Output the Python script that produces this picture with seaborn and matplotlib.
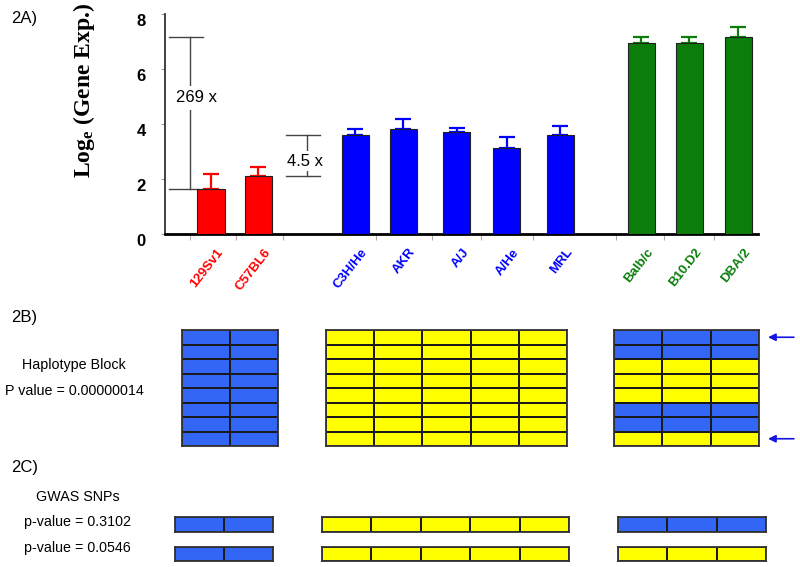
import numpy as np
import pandas as pd
import matplotlib
matplotlib.use("Agg")
import matplotlib.pyplot as plt
import seaborn as sns
from matplotlib.colors import ListedColormap
from matplotlib.transforms import ScaledTranslation

# ---------------- data ----------------
strains = ['129Sv1', 'C57BL6', 'C3H/He', 'AKR', 'A/J', 'A/He', 'MRL',
           'Balb/c', 'B10.D2', 'DBA/2']
groups = ['low', 'low', 'mid', 'mid', 'mid', 'mid', 'mid', 'high', 'high', 'high']
log_expr = [1.64, 2.10, 3.61, 3.81, 3.70, 3.13, 3.61, 6.95, 6.95, 7.15]
err_up = [0.55, 0.35, 0.22, 0.39, 0.17, 0.41, 0.32, 0.22, 0.22, 0.39]
yticks = [0, 2, 4, 6, 8]
fold_labels = ['269 x', '4.5 x']

# haplotype block: 8 SNP rows x 10 strains (1 = blue allele, 0 = yellow allele)
hap_block = [
    [1, 1, 0, 0, 0, 0, 0, 1, 1, 1],
    [1, 1, 0, 0, 0, 0, 0, 1, 1, 1],
    [1, 1, 0, 0, 0, 0, 0, 0, 0, 0],
    [1, 1, 0, 0, 0, 0, 0, 0, 0, 0],
    [1, 1, 0, 0, 0, 0, 0, 0, 0, 0],
    [1, 1, 0, 0, 0, 0, 0, 1, 1, 1],
    [1, 1, 0, 0, 0, 0, 0, 1, 1, 1],
    [1, 1, 0, 0, 0, 0, 0, 0, 0, 0],
]
snp_rows = [
    [1, 1, 0, 0, 0, 0, 0, 1, 1, 1],
    [1, 1, 0, 0, 0, 0, 0, 0, 0, 0],
]
snp_labels = ['p-value = 0.3102', 'p-value = 0.0546']
hap_title = 'Haplotype Block'
hap_p = 'P value = 0.00000014'

# ---------------- layout / style ----------------
W, H = 800, 567
bar_x = [0, 0.97, 2.97, 3.96, 5.07, 6.10, 7.20, 8.87, 9.86, 10.87]
minor_x = [-0.43, 0.52, 1.48, 3.40, 4.56, 5.57, 6.64, 8.35, 9.34, 10.37]
group_color = {'low': '#FF0000', 'mid': '#0000FF', 'high': '#0A7D0A'}
blue_cell = '#3366F5'
yellow_cell = '#FFFF00'

plt.rcParams['font.family'] = ['Liberation Sans', 'DejaVu Sans']
plt.rcParams['mathtext.fontset'] = 'custom'
plt.rcParams['mathtext.rm'] = 'Liberation Serif:bold'
plt.rcParams['mathtext.bf'] = 'Liberation Serif:bold'
plt.rcParams['mathtext.it'] = 'Liberation Serif:bold'


def box(l, t, r, b):
    return [l / W, 1 - b / H, (r - l) / W, (b - t) / H]


fig = plt.figure(figsize=(W / 100, H / 100), dpi=100)

# ---------------- 2A bar chart ----------------
ax = fig.add_axes(box(165, 14, 758, 234))
df = pd.DataFrame({'strain': strains, 'group': groups, 'val': log_expr,
                   'pos': bar_x})
width = 0.557 / np.min(np.diff(bar_x))
sns.barplot(data=df, x='pos', y='val', hue='group', palette=group_color,
            native_scale=True, dodge=False, width=width, errorbar=None,
            saturation=1, legend=False, edgecolor='#202020', linewidth=0.8,
            orient='x', ax=ax, zorder=3)
for g, c in group_color.items():
    sub = df[df['group'] == g]
    e = np.array([err_up[i] for i in sub.index])
    ax.errorbar(sub['pos'], sub['val'], yerr=[np.zeros_like(e), e], fmt='none',
                ecolor=c, elinewidth=1.6, capsize=6, capthick=1.6, zorder=2)

ax.set_xlim(-0.9485, 11.278)
ax.set_ylim(0, 8)
ax.set_yticks(yticks)
ax.set_yticklabels([str(t) for t in yticks], fontsize=12, fontweight='bold')
ax.tick_params(axis='y', length=3, width=0.8, color='#999999', pad=11)
ax.set_xticks(bar_x)
ax.set_xticklabels(strains, rotation=52, ha='right', va='center',
                   rotation_mode='anchor', fontsize=9.5, fontweight='bold')
ax.tick_params(axis='x', which='major', length=0, pad=11.5)
ax.set_xticks(minor_x, minor=True)
ax.tick_params(axis='x', which='minor', length=4, width=0.8, color='#aaaaaa')
for lab, g in zip(ax.get_xticklabels(), groups):
    lab.set_color(group_color[g])
    lab.set_transform(lab.get_transform() +
                      ScaledTranslation(0.10, 0, fig.dpi_scale_trans))
for lab in ax.get_yticklabels():
    lab.set_transform(lab.get_transform() +
                      ScaledTranslation(0, -0.06, fig.dpi_scale_trans))
ax.set_xlabel('')
ax.set_ylabel('')
for s in ['top', 'right']:
    ax.spines[s].set_visible(False)
ax.spines['left'].set_color('#333333')
ax.spines['left'].set_linewidth(1.3)
ax.spines['bottom'].set_color('black')
ax.spines['bottom'].set_linewidth(2.0)

# fold-change brackets
lo = min(log_expr)
hi = max(log_expr)
bc = '#444444'
xb = -0.433
ax.plot([xb, xb], [lo, hi], color=bc, lw=1.0, zorder=1)
ax.plot([-0.866, -0.165], [hi, hi], color=bc, lw=1.0, zorder=1)
ax.plot([-0.866, -0.268], [lo, lo], color=bc, lw=1.0, zorder=1)
ax.text(-0.29, lo + 0.6 * (hi - lo), fold_labels[0], ha='center', va='center',
        fontsize=12, bbox=dict(fc='white', ec='none', pad=3), zorder=4)

lo2 = log_expr[1]
hi2 = lo2 + np.log(4.5)
xb2 = 1.98
ax.plot([xb2, xb2], [lo2, hi2], color=bc, lw=1.0, zorder=1)
ax.plot([1.55, 2.25], [hi2, hi2], color=bc, lw=1.0, zorder=1)
ax.plot([1.55, 2.25], [lo2, lo2], color=bc, lw=1.0, zorder=1)
ax.text(1.94, (lo2 + hi2) / 2 - 0.2, fold_labels[1], ha='center', va='center',
        fontsize=12, bbox=dict(fc='white', ec='none', pad=2), zorder=4)

fig.text(84 / W, 1 - 90 / H, r'Log$_\mathrm{e}$ (Gene Exp.)', rotation=90,
         ha='center', va='center', fontsize=17, fontweight='bold',
         family='Liberation Serif')


def ftext(x, y, s, **kw):
    fig.text(x / W, 1 - y / H, s, **kw)


ftext(11, 23, '2A)', fontsize=12, va='baseline')
ftext(11, 322, '2B)', fontsize=12, va='baseline')
ftext(11, 472, '2C)', fontsize=12, va='baseline')
ftext(74, 369, hap_title, fontsize=10.3, ha='center', va='baseline')
ftext(74, 395, hap_p, fontsize=10.3, ha='center', va='baseline')
ftext(36, 501, 'GWAS SNPs', fontsize=10.3, va='baseline')
ftext(24, 526, snp_labels[0], fontsize=10.3, va='baseline')
ftext(24, 552, snp_labels[1], fontsize=10.3, va='baseline')

# ---------------- 2B / 2C heatmaps ----------------
cmap = ListedColormap([yellow_cell, blue_cell])
grp_order = ['low', 'mid', 'high']
idx = {g: [i for i, gg in enumerate(groups) if gg == g] for g in grp_order}


def cell_block(rect, data):
    a = fig.add_axes(box(*rect))
    sns.heatmap(np.array(data), cmap=cmap, vmin=0, vmax=1, cbar=False,
                linewidths=1.1, linecolor='#1a1a1a', xticklabels=False,
                yticklabels=False, ax=a)
    for s in a.spines.values():
        s.set_visible(True)
        s.set_linewidth(1.3)
        s.set_color('#333333')
    return a


hap = np.array(hap_block)
hap_rects = {'low': (182, 330, 278, 446), 'mid': (326, 330, 567, 446),
             'high': (614, 330, 759, 446)}
hap_axes = {}
for g in grp_order:
    hap_axes[g] = cell_block(hap_rects[g], hap[:, idx[g]])

# arrows marking first and last SNP
ra = hap_axes['high']
for r in [0, len(hap_block) - 1]:
    ra.annotate('', xy=(3.13, r + 0.5), xytext=(3.78, r + 0.5),
                arrowprops=dict(arrowstyle='-|>', color='#1515E0', lw=1.2,
                                mutation_scale=11),
                annotation_clip=False)

snp = np.array(snp_rows)
snp_x = {'low': (175, 273), 'mid': (322, 569), 'high': (618, 766)}
snp_y = [(517, 532), (547, 561)]
for k, (t, b) in enumerate(snp_y):
    for g in grp_order:
        l, r = snp_x[g]
        cell_block((l, t, r, b), snp[k:k + 1, idx[g]])

fig.savefig('out.png', dpi=100)
